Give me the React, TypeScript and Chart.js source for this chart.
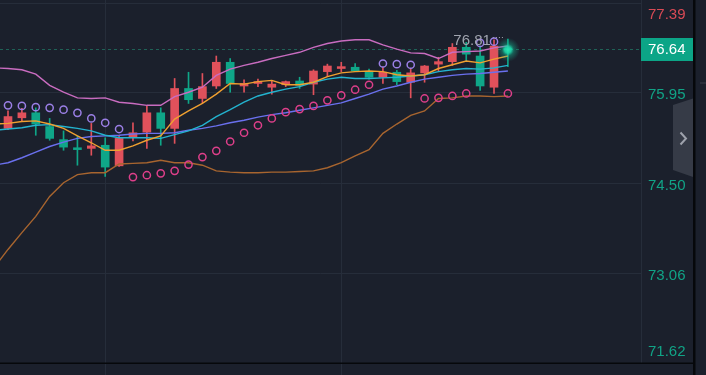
import React, { useEffect, useRef } from 'react';
import { Chart, registerables } from 'chart.js';

Chart.register(...registerables);

// ---------- data ----------
const lastPrice = 76.64;
const priceTicks = [77.39, 75.95, 74.5, 73.06, 71.62];
const priceTickLabels = ['77.39', '75.95', '74.50', '73.06', '71.62'];
const gridIndices = [7, 24];

const opens = [75.38, 75.55, 75.63, 75.41, 75.2, 75.07, 75.06, 75.11, 74.78, 75.24, 75.32, 75.63, 75.38, 76.02, 75.86, 76.06, 76.44, 76.06, 76.1, 76.04, 76.08, 76.14, 76.09, 76.29, 76.34, 76.36, 76.29, 76.2, 76.28, 76.12, 76.27, 76.41, 76.45, 76.68, 76.54, 76.04, 76.66];
const highs = [75.66, 75.7, 75.71, 75.54, 75.34, 75.26, 75.46, 75.23, 75.26, 75.47, 75.74, 75.71, 76.18, 76.28, 76.26, 76.54, 76.5, 76.16, 76.17, 76.14, 76.14, 76.2, 76.32, 76.41, 76.44, 76.42, 76.33, 76.36, 76.31, 76.34, 76.39, 76.52, 76.74, 76.76, 76.7, 76.8, 76.81];
const lows = [75.36, 75.5, 75.27, 75.19, 75.03, 74.79, 74.95, 74.61, 74.77, 75.18, 75.06, 75.11, 75.14, 75.78, 75.79, 76.02, 75.96, 75.96, 76.05, 75.93, 76.05, 76.02, 75.92, 76.21, 76.29, 76.29, 76.17, 76.1, 76.08, 75.87, 76.12, 76.3, 76.39, 76.46, 75.99, 75.94, 76.37];
const closes = [75.57, 75.63, 75.45, 75.22, 75.08, 75.04, 75.1, 74.76, 75.22, 75.31, 75.63, 75.38, 76.02, 75.84, 76.05, 76.44, 76.1, 76.1, 76.13, 76.09, 76.13, 76.07, 76.3, 76.38, 76.37, 76.3, 76.2, 76.28, 76.13, 76.27, 76.38, 76.45, 76.68, 76.57, 76.06, 76.7, 76.64];
const sar = [75.75, 75.74, 75.72, 75.71, 75.68, 75.63, 75.54, 75.47, 75.37, 74.6, 74.63, 74.66, 74.7, 74.8, 74.92, 75.02, 75.17, 75.31, 75.43, 75.54, 75.64, 75.69, 75.74, 75.83, 75.91, 76.0, 76.08, 76.42, 76.41, 76.4, 75.86, 75.87, 75.9, 75.94, 76.75, 76.77, 75.94];

// indicator lines start one bar before the first visible candle (index -1)
const lineStartIndex = -1;
const bollUpper = [76.35, 76.34, 76.32, 76.25, 76.07, 75.96, 75.87, 75.86, 75.87, 75.8, 75.78, 75.75, 75.75, 75.89, 75.96, 76.04, 76.23, 76.33, 76.39, 76.44, 76.5, 76.55, 76.6, 76.68, 76.74, 76.78, 76.8, 76.8, 76.72, 76.65, 76.59, 76.58, 76.5, 76.6, 76.61, 76.62, 76.67, 76.7];
const bollLower = [73.15, 73.44, 73.71, 73.97, 74.29, 74.51, 74.64, 74.67, 74.67, 74.81, 74.82, 74.83, 74.87, 74.83, 74.83, 74.79, 74.7, 74.68, 74.67, 74.67, 74.68, 74.68, 74.69, 74.7, 74.75, 74.83, 74.94, 75.04, 75.3, 75.45, 75.59, 75.66, 75.86, 75.87, 75.9, 75.9, 75.89, 75.9];
const maFast = [75.45, 75.46, 75.49, 75.5, 75.45, 75.38, 75.26, 75.15, 75.03, 75.03, 75.1, 75.19, 75.26, 75.53, 75.66, 75.78, 75.93, 76.1, 76.09, 76.13, 76.15, 76.08, 76.08, 76.12, 76.21, 76.27, 76.29, 76.3, 76.29, 76.24, 76.22, 76.24, 76.34, 76.4, 76.46, 76.43, 76.49, 76.54];
const maMid = [75.35, 75.37, 75.39, 75.43, 75.44, 75.41, 75.38, 75.34, 75.27, 75.23, 75.23, 75.23, 75.22, 75.28, 75.34, 75.43, 75.57, 75.68, 75.8, 75.9, 75.96, 76.01, 76.05, 76.12, 76.17, 76.2, 76.18, 76.18, 76.19, 76.2, 76.22, 76.24, 76.29, 76.32, 76.34, 76.33, 76.35, 76.39];
const maSlow = [74.79, 74.83, 74.91, 75.0, 75.09, 75.16, 75.22, 75.25, 75.26, 75.27, 75.29, 75.3, 75.3, 75.31, 75.35, 75.38, 75.42, 75.47, 75.51, 75.56, 75.6, 75.63, 75.67, 75.71, 75.75, 75.79, 75.86, 75.93, 76.01, 76.06, 76.12, 76.17, 76.2, 76.23, 76.25, 76.26, 76.28, 76.3];

// ---------- styles ----------
const W = 706;
const H = 375;
const AXIS_X = 641;
const PLOT_TOP = 3;
const PLOT_BOTTOM = 363;
const BG = '#1b202c';
const GRID = '#262d3a';
const RED = '#e0515b';
const TEAL = '#0fa688';
const BB_UP = '#c96cc0';
const BB_LOW = '#a8652f';
const MA_FAST = '#f0a030';
const MA_MID = '#23b3cf';
const MA_SLOW = '#6a70ee';
const SAR_UP = '#9b7fe6';
const SAR_DOWN = '#de3f8a';
const FONT = '15px "Liberation Sans", Arial, sans-serif';

const BAR_SPACING = 13.886;
const X_MIN = -8 / BAR_SPACING;
const X_MAX = X_MIN + AXIS_X / BAR_SPACING;

const toLine = (arr: number[]) => arr.map((v, k) => ({ x: k + lineStartIndex, y: v }));

export default function App() {
  const ref = useRef<HTMLCanvasElement | null>(null);

  useEffect(() => {
    document.body.style.margin = '0';
    const canvas = ref.current;
    if (!canvas) return;

    const backPlugin = {
      id: 'backPlugin',
      beforeDraw(chart: any) {
        const { ctx } = chart;
        const xs = chart.scales.x;
        const ys = chart.scales.y;
        ctx.save();
        ctx.fillStyle = BG;
        ctx.fillRect(0, 0, W, H);
        ctx.strokeStyle = GRID;
        ctx.lineWidth = 1;
        priceTicks.forEach((v) => {
          const y = Math.floor(ys.getPixelForValue(v)) + 0.5;
          ctx.beginPath();
          ctx.moveTo(0, y);
          ctx.lineTo(AXIS_X, y);
          ctx.stroke();
        });
        gridIndices.forEach((i) => {
          const x = Math.round(xs.getPixelForValue(i)) + 0.5;
          ctx.beginPath();
          ctx.moveTo(x, 0);
          ctx.lineTo(x, H);
          ctx.stroke();
        });
        // current price dashed line
        const py = Math.floor(ys.getPixelForValue(lastPrice)) + 0.5;
        ctx.strokeStyle = '#1f6257';
        ctx.setLineDash([3, 3]);
        ctx.beginPath();
        ctx.moveTo(0, py);
        ctx.lineTo(AXIS_X, py);
        ctx.stroke();
        ctx.setLineDash([]);
        ctx.restore();
      },
    };

    const frontPlugin = {
      id: 'frontPlugin',
      afterDraw(chart: any) {
        const { ctx } = chart;
        const xs = chart.scales.x;
        const ys = chart.scales.y;
        ctx.save();

        // highest price marker
        let hi = 0;
        highs.forEach((v, i) => { if (v > highs[hi]) hi = i; });
        const hx = xs.getPixelForValue(hi);
        const hy = ys.getPixelForValue(highs[hi]);
        ctx.font = FONT;
        ctx.fillStyle = '#a0a4ae';
        ctx.textAlign = 'right';
        ctx.textBaseline = 'middle';
        ctx.fillText(highs[hi].toFixed(2), hx - 17, hy + 1.5);
        ctx.strokeStyle = '#a0a4ae';
        ctx.lineWidth = 1;
        ctx.setLineDash([1, 2]);
        ctx.beginPath();
        ctx.moveTo(hx - 15, Math.round(hy - 2) + 0.5);
        ctx.lineTo(hx - 3, Math.round(hy - 2) + 0.5);
        ctx.stroke();
        ctx.setLineDash([]);

        // glowing last price dot
        const lx = xs.getPixelForValue(closes.length - 1);
        const ly = ys.getPixelForValue(lastPrice);
        const g = ctx.createRadialGradient(lx, ly, 0, lx, ly, 12);
        g.addColorStop(0, 'rgba(40,230,180,1)');
        g.addColorStop(0.28, 'rgba(30,215,170,0.9)');
        g.addColorStop(0.5, 'rgba(20,190,150,0.4)');
        g.addColorStop(1, 'rgba(20,170,140,0)');
        ctx.fillStyle = g;
        ctx.beginPath();
        ctx.arc(lx, ly, 12, 0, Math.PI * 2);
        ctx.fill();

        // right axis
        ctx.strokeStyle = GRID;
        ctx.beginPath();
        ctx.moveTo(AXIS_X + 0.5, 0);
        ctx.lineTo(AXIS_X + 0.5, PLOT_BOTTOM);
        ctx.stroke();
        ctx.textAlign = 'left';
        ctx.textBaseline = 'middle';
        priceTicks.forEach((v, k) => {
          const y = Math.min(352, Math.max(15, ys.getPixelForValue(v) + 2.5));
          ctx.fillStyle = v > lastPrice ? '#d94a55' : '#11a386';
          ctx.fillText(priceTickLabels[k], AXIS_X + 7, y);
        });
        // last price badge
        const by = ys.getPixelForValue(lastPrice);
        ctx.fillStyle = '#0ca587';
        ctx.fillRect(AXIS_X, Math.round(by - 11.5), 52, 23);
        ctx.fillStyle = '#ffffff';
        ctx.fillText(lastPrice.toFixed(2), AXIS_X + 7, by + 0.5);

        // bottom border and right strip
        ctx.fillStyle = '#06080b';
        ctx.fillRect(0, PLOT_BOTTOM - 0.5, 693, 1.5);
        ctx.fillRect(693, 0, 2.5, H);
        ctx.fillStyle = '#3a3f4b';
        ctx.fillRect(700, 82.5, 6, 1);

        // collapse handle
        ctx.fillStyle = '#363b47';
        ctx.beginPath();
        ctx.moveTo(673, 105);
        ctx.lineTo(693, 98.5);
        ctx.lineTo(693, 177);
        ctx.lineTo(673, 170);
        ctx.closePath();
        ctx.fill();
        ctx.strokeStyle = '#9ea2ac';
        ctx.lineWidth = 2;
        ctx.beginPath();
        ctx.moveTo(680.5, 132.5);
        ctx.lineTo(686, 138.5);
        ctx.lineTo(680.5, 144.5);
        ctx.stroke();

        ctx.restore();
      },
    };

    const candleColor = (c: any) => (closes[c.dataIndex] >= opens[c.dataIndex] ? RED : TEAL);
    const lineDs = (label: string, arr: number[], color: string) => ({
      type: 'line' as const,
      label,
      data: toLine(arr),
      borderColor: color,
      borderWidth: 1.4,
      pointRadius: 0,
      tension: 0,
      fill: false,
    });

    const chart = new Chart(canvas, {
      type: 'bar',
      data: {
        datasets: [
          {
            type: 'line',
            label: 'SAR',
            data: sar.map((v, i) => ({ x: i, y: v })),
            showLine: false,
            pointRadius: 3.6,
            pointBorderWidth: 1.5,
            pointBackgroundColor: 'rgba(0,0,0,0)',
            pointBorderColor: (c: any) => (sar[c.dataIndex] > closes[c.dataIndex] ? SAR_UP : SAR_DOWN),
          } as any,
          lineDs('BOLL UP', bollUpper, BB_UP),
          lineDs('BOLL DN', bollLower, BB_LOW),
          lineDs('MA5', maFast, MA_FAST),
          lineDs('MA10', maMid, MA_MID),
          lineDs('MA30', maSlow, MA_SLOW),
          {
            type: 'bar',
            label: 'body',
            data: opens.map((o, i) => ({ x: i, y: [o, closes[i]] })),
            backgroundColor: candleColor,
            barThickness: 8,
            minBarLength: 1,
            borderWidth: 0,
          } as any,
          {
            type: 'bar',
            label: 'wick',
            data: lows.map((l, i) => ({ x: i, y: [l, highs[i]] })),
            backgroundColor: candleColor,
            barThickness: 1,
            borderWidth: 0,
          } as any,
        ],
      },
      options: {
        responsive: false,
        animation: false,
        devicePixelRatio: 1,
        layout: {
          autoPadding: false,
          padding: { left: 0, right: W - AXIS_X, top: PLOT_TOP, bottom: H - PLOT_BOTTOM },
        },
        plugins: { legend: { display: false }, tooltip: { enabled: false } },
        scales: {
          x: { type: 'linear', min: X_MIN, max: X_MAX, display: false, stacked: true, offset: false },
          y: { type: 'linear', min: 71.62, max: 77.39, display: false, beginAtZero: false },
        },
      } as any,
      plugins: [backPlugin, frontPlugin],
    });
    return () => chart.destroy();
  }, []);

  return (
    <div style={{ position: 'fixed', left: 0, top: 0, width: W, height: H, background: BG }}>
      <canvas ref={ref} width={W} height={H} style={{ display: 'block', width: W, height: H }} />
    </div>
  );
}
